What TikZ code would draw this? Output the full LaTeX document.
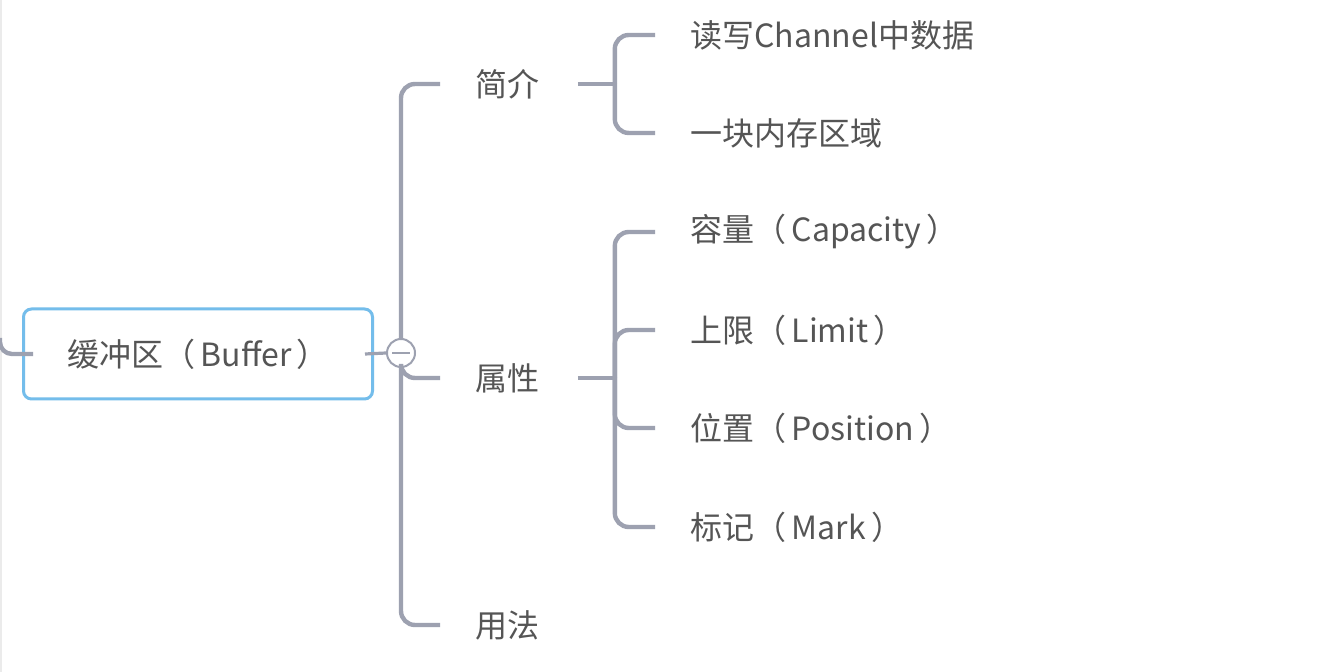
\documentclass[tikz,border=0pt]{standalone}
\usepackage{fontspec}
\setmainfont{Noto Sans CJK SC}
\usepackage{tikz}
\definecolor{linegray}{HTML}{9DA1B0}
\definecolor{textgray}{HTML}{555555}
\definecolor{boxblue}{HTML}{74BDEB}
\tikzset{branch/.style={draw=linegray,line width=2.2pt,rounded corners=7pt}}
\tikzset{topic/.style={anchor=west,inner sep=0pt,text=textgray,font=\fontsize{16pt}{18pt}\selectfont}}
\tikzset{rootbox/.style={draw=boxblue,line width=1.5pt,rounded corners=4pt,fill=white,minimum width=174.5pt,minimum height=45pt,text=textgray,font=\fontsize{16pt}{18pt}\selectfont}}
\tikzset{toggle/.style={circle,draw=linegray,line width=1pt,fill=white,minimum size=14pt,inner sep=0pt}}

\begin{document}
\begin{tikzpicture}[x=0.5pt,y=-0.5pt]
    \useasboundingbox (0,0) rectangle (1342,672);
    \fill[white] (0,0) rectangle (1342,672);
    \draw[black!8,line width=0.8pt] (1,0) -- (1,672);
    % central topic
    \coordinate (parent) at (0,338);
    \node[rootbox] (buf) at (198,354) {缓冲区（\,Buffer\,）};
    \draw[branch,rounded corners=6pt] (parent) |- ([xshift=5.5pt]buf.west);
    \node[toggle] (tog) at (401,353) {};
    \draw[branch,line width=1.6pt] ([xshift=-4.5pt]buf.east) -- (tog.west);
    \draw[linegray,line width=1pt] ([xshift=-4.5pt]tog.center) -- ([xshift=4.5pt]tog.center);
    % main topics
    \node[topic] (intro) at (475,84) {简介};
    \node[topic] (attr) at (475,378) {属性};
    \node[topic] (usage) at (475,625) {用法};
    \draw[branch] (tog.north) |- ([xshift=-17.5pt]intro.west);
    \draw[branch] (tog.south) |- ([xshift=-17.5pt]attr.west);
    \draw[branch] (tog.south) |- ([xshift=-17.5pt]usage.west);
    % subtopics
    \node[topic] (rw) at (690,35) {读写Channel中数据};
    \node[topic] (mem) at (690,133) {一块内存区域};
    \node[topic] (cap) at (690,232) {容量（\,Capacity\,）};
    \node[topic] (lim) at (690,330) {上限（\,Limit\,）};
    \node[topic] (pos) at (690,428) {位置（\,Position\,）};
    \node[topic] (mark) at (690,527) {标记（\,Mark\,）};
    \draw[branch] ([xshift=19pt]intro.east) -- ++(18.5pt,0) coordinate (introfork);
    \draw[branch] (introfork) |- ([xshift=-17.5pt]rw.west);
    \draw[branch] (introfork) |- ([xshift=-17.5pt]mem.west);
    \draw[branch] ([xshift=19pt]attr.east) -- ++(18.5pt,0) coordinate (attrfork);
    \draw[branch] (attrfork) |- ([xshift=-17.5pt]cap.west);
    \draw[branch] (attrfork) |- ([xshift=-17.5pt]lim.west);
    \draw[branch] (attrfork) |- ([xshift=-17.5pt]pos.west);
    \draw[branch] (attrfork) |- ([xshift=-17.5pt]mark.west);
  \end{tikzpicture}
\end{document}
